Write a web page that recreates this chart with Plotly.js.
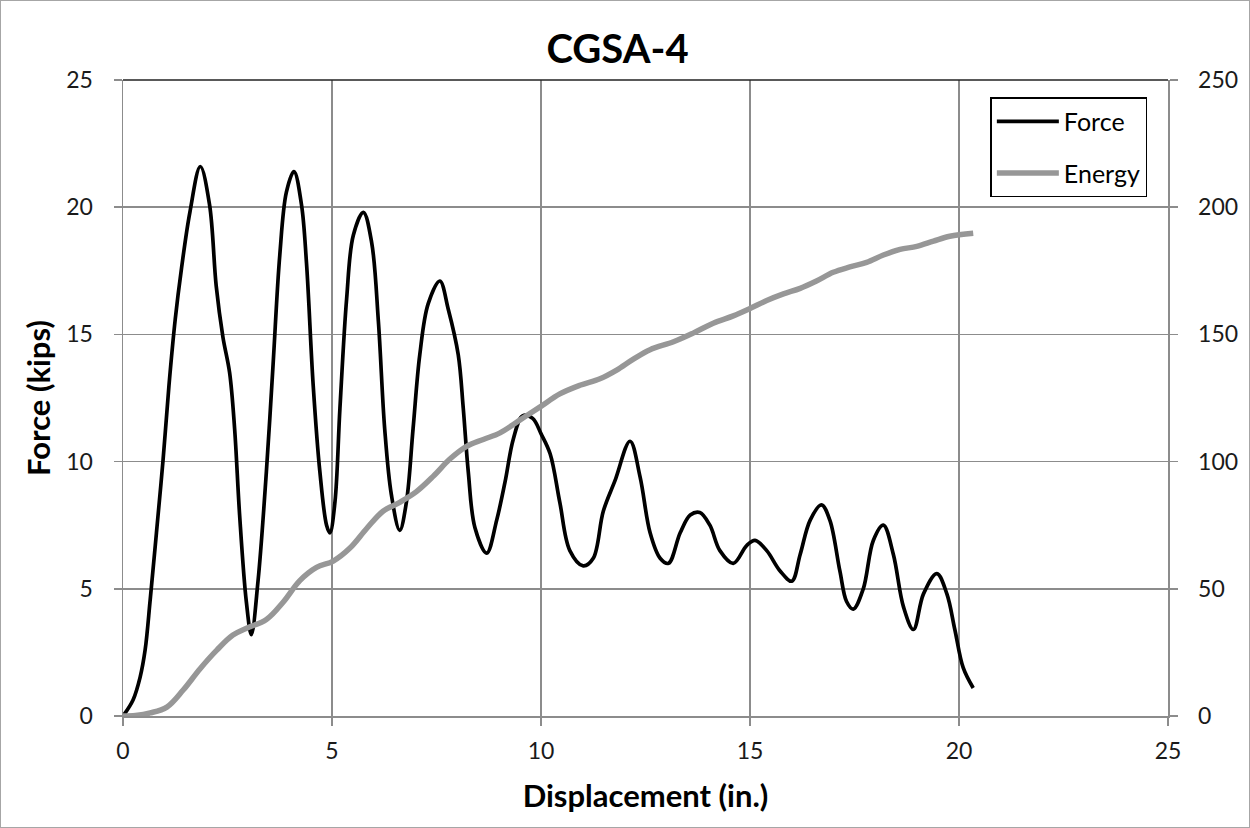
<!DOCTYPE html>
<html>
<head>
<meta charset="utf-8">
<script src="https://cdn.plot.ly/plotly-3.0.1.min.js"></script>
<style>
  html, body { margin: 0; padding: 0; background: #fff; }
  #chart { width: 1250px; height: 828px; box-sizing: border-box; border: 1px solid #a6a6a6; }
</style>
</head>
<body>
<div id="chart"></div>
<script>
// Force vs displacement (kips vs in.)
const forceX = [0, 0.24, 0.41, 0.53, 0.65, 0.8, 0.96, 1.1, 1.25, 1.4, 1.6, 1.85, 2.07, 2.23, 2.39, 2.55, 2.67, 2.79, 2.95, 3.07,
  3.23, 3.43, 3.59, 3.75, 3.91, 4.09, 4.27, 4.39, 4.55, 4.71, 4.87, 4.95, 5.07, 5.19, 5.35, 5.51, 5.75,
  5.95, 6.11, 6.26, 6.42, 6.62, 6.78, 6.94, 7.1, 7.3, 7.58, 7.78, 8.02, 8.14, 8.26, 8.42, 8.7, 8.94,
  9.14, 9.34, 9.56, 9.8, 10.0, 10.22, 10.45, 10.69, 11.01, 11.25, 11.49, 11.77, 12.13, 12.37, 12.61,
  12.85, 13.05, 13.33, 13.57, 13.8, 14.04, 14.28, 14.6, 14.92, 15.12, 15.4, 15.72, 16.0, 16.2, 16.44,
  16.71, 16.91, 17.15, 17.31, 17.47, 17.71, 17.95, 18.19, 18.43, 18.67, 18.91, 19.15, 19.47, 19.71,
  19.9, 20.1, 20.34];
const forceY = [0, 0.63, 1.53, 2.6, 4.56, 7.2, 10.1, 13.0, 15.6, 17.6, 19.8, 21.6, 20.1, 16.9, 14.9, 13.5, 11.3, 7.9, 4.5, 3.2,
  5.3, 9.6, 13.8, 18.1, 20.6, 21.4, 20.1, 17.8, 13.0, 9.6, 7.5, 7.2, 8.4, 12.1, 16.4, 18.9, 19.8,
  18.6, 15.5, 11.3, 8.7, 7.3, 8.4, 11.3, 14.2, 16.2, 17.1, 16.0, 14.2, 12.1, 9.6, 7.4, 6.4, 7.7,
  9.2, 10.9, 11.8, 11.7, 11.1, 10.3, 8.4, 6.5, 5.9, 6.2, 8.05, 9.25, 10.8, 9.4, 7.2,
  6.2, 6.0, 7.2, 7.9, 8.0, 7.5, 6.5, 6.0, 6.7, 6.9, 6.5, 5.7, 5.3, 6.35, 7.7,
  8.3, 7.7, 5.7, 4.5, 4.2, 5.0, 6.9, 7.5, 6.35, 4.3, 3.4, 4.8, 5.6, 4.8,
  3.4, 1.9, 1.1];
// Energy vs displacement (right axis)
const energyX = [0, 0.3, 0.65, 1.05, 1.44, 1.84, 2.25, 2.63, 2.97, 3.43, 3.83, 4.23, 4.63, 5.03, 5.43, 5.83,
  6.22, 6.62, 7.02, 7.42, 7.82, 8.22, 8.62, 9.02, 9.5, 9.98, 10.45, 10.93, 11.41, 11.81, 12.21, 12.61,
  13.17, 13.64, 14.12, 14.6, 15.0, 15.4, 15.8, 16.2, 16.59, 16.99, 17.39, 17.79, 18.19, 18.59, 18.99,
  19.39, 19.78, 20.34];
const energyY = [0, 0.2, 1.2, 3.5, 10.2, 18.5, 26, 31.8, 34.6, 37.9, 44.7, 53.2, 58.4, 60.9, 66, 73.7,
  80.5, 84, 88.2, 94.2, 101, 106, 108.7, 111.3, 116.4, 121.5, 126.6, 130, 132.6, 136, 140.3, 144,
  147.1, 150.5, 154.4, 157.3, 160.2, 163.3, 165.9, 168.1, 171, 174.4, 176.5, 178.3, 181.2, 183.4, 184.6,
  186.7, 188.6, 189.8];
const chartTitle = "CGSA-4";
const xTitle = "Displacement (in.)";
const yTitle = "Force (kips)";
const seriesNames = ["Force", "Energy"];
const xTicks = [0, 5, 10, 15, 20, 25];
const yTicks = [0, 5, 10, 15, 20, 25];
const y2Ticks = [0, 50, 100, 150, 200, 250];

const FONT = "Lato, 'Open Sans', sans-serif";
const gridC = "#8c8c8c";
const TICK = 23;

const traces = [
  { x: forceX, y: forceY, name: seriesNames[0], type: "scatter", mode: "lines",
    line: { color: "#000000", width: 3.7, shape: "spline", smoothing: 1 }, legendgroup: "a" },
  { x: energyX, y: energyY, name: seriesNames[1], type: "scatter", mode: "lines", yaxis: "y2",
    line: { color: "#979797", width: 5.5, shape: "spline", smoothing: 1 }, legendgroup: "b" }
];

const axisCommon = {
  ticks: "outside", ticklen: 8, tickcolor: gridC, tickwidth: 1.5,
  showline: true, linecolor: gridC, linewidth: 1.5, zeroline: false,
  tickfont: { family: FONT, size: TICK, color: "#1a1a1a" }
};

const layout = {
  width: 1248, height: 826,
  margin: { l: 122, r: 81, t: 79, b: 111 },
  paper_bgcolor: "#ffffff", plot_bgcolor: "#ffffff",
  font: { family: FONT, size: TICK, color: "#000" },
  title: { text: "<b>" + chartTitle + "</b>", x: 0.494, xref: "container", xanchor: "center",
           y: 0.942, yref: "container", yanchor: "middle", font: { family: FONT, size: 40, color: "#000" } },
  showlegend: true,
  legend: { x: 0.83, y: 0.973, xanchor: "left", yanchor: "top", bordercolor: "#000", borderwidth: 1.5,
            bgcolor: "#fff", font: { family: FONT, size: 25 }, traceorder: "grouped", tracegroupgap: 16,
            itemwidth: 62 },
  xaxis: Object.assign({}, axisCommon, {
           range: [0, 25], tickvals: xTicks, showgrid: true, gridcolor: gridC, gridwidth: 1.5,
           ticklabelstandoff: 6,
           title: { text: "<b>" + xTitle + "</b>", font: { family: FONT, size: 31 }, standoff: 22 } }),
  yaxis: Object.assign({}, axisCommon, {
           range: [0, 25], tickvals: yTicks, showgrid: true, gridcolor: gridC, gridwidth: 1.5,
           ticklabelstandoff: 16,
           title: { text: "<b>" + yTitle + "</b>", font: { family: FONT, size: 31 }, standoff: 6 } }),
  yaxis2: Object.assign({}, axisCommon, {
            range: [0, 250], tickvals: y2Ticks, overlaying: "y", side: "right", showgrid: false,
            ticklabelstandoff: 16 }),
  shapes: [
    { type: "line", xref: "paper", yref: "paper", x0: 0, x1: 1, y0: 1, y1: 1, line: { color: "#222", width: 1.5 } }
  ]
};

Plotly.newPlot("chart", traces, layout, { displayModeBar: false, staticPlot: true });
</script>
</body>
</html>
